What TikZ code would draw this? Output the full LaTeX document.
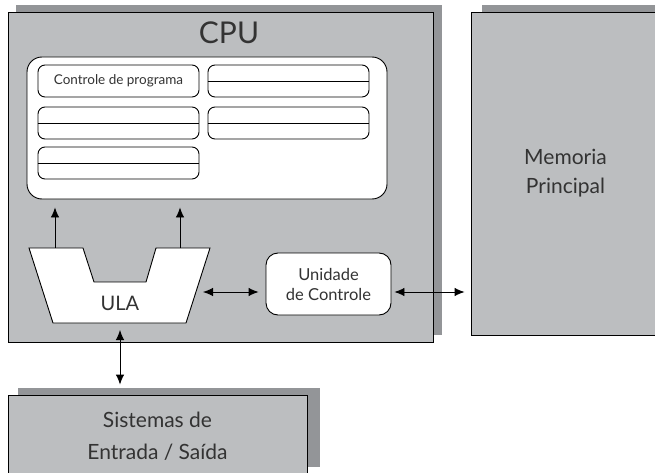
\documentclass[tikz,border=0pt]{standalone}
\usepackage{fontspec}
\setmainfont{Lato}
\usetikzlibrary{arrows.meta}
\definecolor{boxgray}{HTML}{BCBEC0}
\definecolor{shadowgray}{HTML}{939598}
\definecolor{txtgray}{HTML}{333333}
\tikzset{
    panel/.style={draw=black,line width=0.9pt,fill=boxgray,text=txtgray,align=center,inner sep=0pt},
    shade/.style={fill=shadowgray},
    slot/.style={draw=black,line width=0.9pt,fill=white,rounded corners=7pt,minimum width=161pt,minimum height=32pt,inner sep=0pt,text=txtgray},
    both/.style={{Latex[length=10pt,width=8.5pt]}-{Latex[length=10pt,width=8.5pt]},line width=0.9pt},
    up/.style={-{Latex[length=10pt,width=8.5pt]},line width=0.9pt}
}
\begin{document}
\begin{tikzpicture}[x=1pt,y=-1pt]
    \useasboundingbox (0,0) rectangle (655,473);
    \clip (0,0) rectangle (655,473);
    % shadows
    \fill[shade] (16,5) rectangle (442,335);
    \fill[shade] (482,5) rectangle (670,328);
    \fill[shade] (18,388) rectangle (320,467);
    % main boxes
    \node[panel,minimum width=425pt,minimum height=330pt] (cpu) at (220.5,177) {};
    \node[text=txtgray,font=\fontsize{30}{32}\selectfont] (cpulabel) at (229,33) {CPU};
    \node[panel,minimum width=189pt,minimum height=323pt,font=\fontsize{21}{29}\selectfont] (mem) at (565.5,173.5) {Memoria\\Principal};
    \node[panel,minimum width=299pt,minimum height=82pt,font=\fontsize{21}{32}\selectfont] (io) at (157.5,436) {Sistemas de\\Entrada / Saída};
    % registers
    \node[draw=black,line width=0.9pt,fill=white,rounded corners=15pt,minimum width=360pt,minimum height=142pt] (regs) at (207,128) {};
    \node[slot,font=\fontsize{13.5}{15}\selectfont] (prog) at (118.5,81) {Controle de programa};
    \node[slot] (regA) at (288.5,81) {};
    \node[slot] (regB) at (118.5,123) {};
    \node[slot] (regC) at (288.5,123) {};
    \node[slot] (regD) at (118.5,163) {};
    \foreach \r in {regA,regB,regC,regD}
        \draw[line width=0.9pt] (\r.west) -- (\r.east);
    % ULA
    \draw[line width=0.9pt,fill=white] (29,248) -- (83,248) -- (94,282) -- (146,282) -- (156,248) -- (210,248) -- (186,323) -- (53,323) -- cycle;
    \node[text=txtgray,font=\fontsize{20}{22}\selectfont] (ula) at (120,303) {ULA};
    \coordinate (ulaL) at (55,248);
    \coordinate (ulaM) at (180,248);
    \coordinate (ulaR) at (196,292);
    \coordinate (ulaB) at (120,323);
    \node[draw=black,line width=0.9pt,fill=white,rounded corners=12pt,minimum width=125pt,minimum height=62pt,inner sep=0pt,align=center,text=txtgray,font=\fontsize{16.5}{20}\selectfont] (uc) at (328.5,284) {Unidade\\de Controle};
    % connectors
    \draw[up,shorten >=8pt] (ulaL) -- (ulaL |- regs.south);
    \draw[up,shorten >=8pt] (ulaM) -- (ulaM |- regs.south);
    \draw[both,shorten <=7pt,shorten >=7pt] (ulaR) -- (ulaR -| uc.west);
    \draw[both,shorten <=3pt,shorten >=6pt] (ulaR -| uc.east) -- (ulaR -| mem.west);
    \draw[both,shorten <=7pt,shorten >=10pt] (ulaB) -- (ulaB |- io.north);
\end{tikzpicture}
\end{document}
